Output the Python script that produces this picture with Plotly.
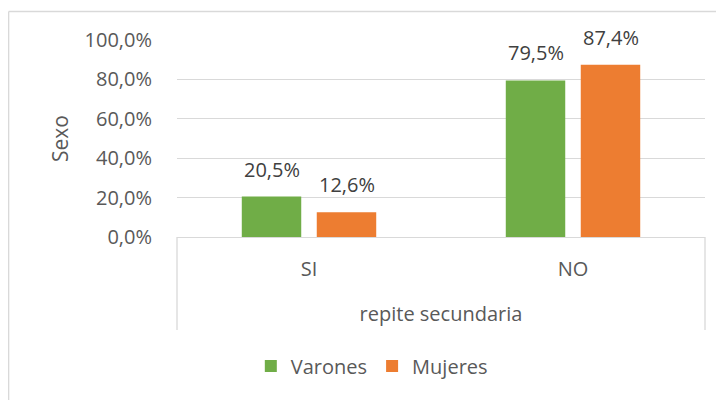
import plotly.graph_objects as go

categories = ["SI", "NO"]
varones = [0.205, 0.795]
mujeres = [0.126, 0.874]
series_names = ["Varones", "Mujeres"]
y_ticks = [0, 0.2, 0.4, 0.6, 0.8, 1.0]

GREEN = "#70AD47"
ORANGE = "#ED7D31"
TXT = "#595959"
GRID = "#D9D9D9"
FONT = "Open Sans"
FS = 20

# page has an 8px body margin; figure coordinates = page coordinates - 8
OFF = 8
W, H = 724 - OFF, 400 - OFF
ML, MT = 177 - OFF, 40 - OFF
MB = H - (237 - OFF)
MR = W - (705.5 - OFF)
PW = W - ML - MR
PH = H - MT - MB

def px2x(p):  # page px -> paper x
    return (p - OFF - ML) / PW

def py2y(p):  # page px -> paper y
    return (H - MB - (p - OFF)) / PH

fig = go.Figure()
fig.add_trace(go.Bar(x=categories, y=varones, name=series_names[0],
                     marker=dict(color=GREEN, line=dict(width=0))))
fig.add_trace(go.Bar(x=categories, y=mujeres, name=series_names[1],
                     marker=dict(color=ORANGE, line=dict(width=0))))

annotations = []
for vals, shift in ((varones, -37.5), (mujeres, 37.5)):
    for c, v in zip(categories, vals):
        annotations.append(dict(x=c, y=v, xref="x", yref="y", xshift=shift, yshift=12,
                                text=f"{v*100:.1f}%".replace(".", ","),
                                showarrow=False, yanchor="bottom",
                                font=dict(family=FONT, size=FS, color="#404040")))

shapes = [
    dict(type="line", xref="paper", yref="paper", x0=0, x1=0, y0=0, y1=py2y(330),
         line=dict(color=GRID, width=1.3)),
    dict(type="line", xref="paper", yref="paper", x0=1, x1=1, y0=0, y1=py2y(330),
         line=dict(color=GRID, width=1.3)),
    dict(type="line", xref="paper", yref="paper", x0=px2x(8.5), x1=px2x(760), y0=py2y(11.5), y1=py2y(11.5),
         line=dict(color=GRID, width=1.3)),
    dict(type="line", xref="paper", yref="paper", x0=px2x(8.5), x1=px2x(8.5), y0=py2y(11.5), y1=py2y(440),
         line=dict(color=GRID, width=1.3)),
]

fig.update_layout(
    width=W, height=H,
    margin=dict(l=ML, r=MR, t=MT, b=MB, pad=0, autoexpand=False),
    paper_bgcolor="white", plot_bgcolor="white",
    separators=",.",
    barmode="group", bargap=0.432, bargroupgap=0.207,
    font=dict(family=FONT, size=FS, color=TXT),
    showlegend=True,
    legend=dict(orientation="h", x=px2x(372), xanchor="center", y=py2y(366), yanchor="middle",
                font=dict(family=FONT, size=FS, color=TXT), itemwidth=30,
                bgcolor="rgba(0,0,0,0)"),
    annotations=annotations,
    shapes=shapes,
)
fig.update_xaxes(
    automargin=False,
    showgrid=False, showline=True, linecolor=GRID, linewidth=1.3,
    ticks="outside", ticklen=14, tickcolor="rgba(0,0,0,0)",
    tickfont=dict(family=FONT, size=FS, color=TXT),
    title=dict(text="repite secundaria", standoff=25,
               font=dict(family=FONT, size=FS, color=TXT)),
    zeroline=False,
)
fig.update_yaxes(
    automargin=False,
    range=[0, 1.0], tickvals=y_ticks, tickformat=".1%",
    showgrid=True, gridcolor=GRID, gridwidth=1.3,
    showline=False, zeroline=False,
    ticks="outside", ticklen=20, tickcolor="rgba(0,0,0,0)",
    tickfont=dict(family=FONT, size=FS, color=TXT),
    title=dict(text="Sexo", standoff=10, font=dict(family=FONT, size=21, color=TXT)),
)

fig.write_html("out.html")
